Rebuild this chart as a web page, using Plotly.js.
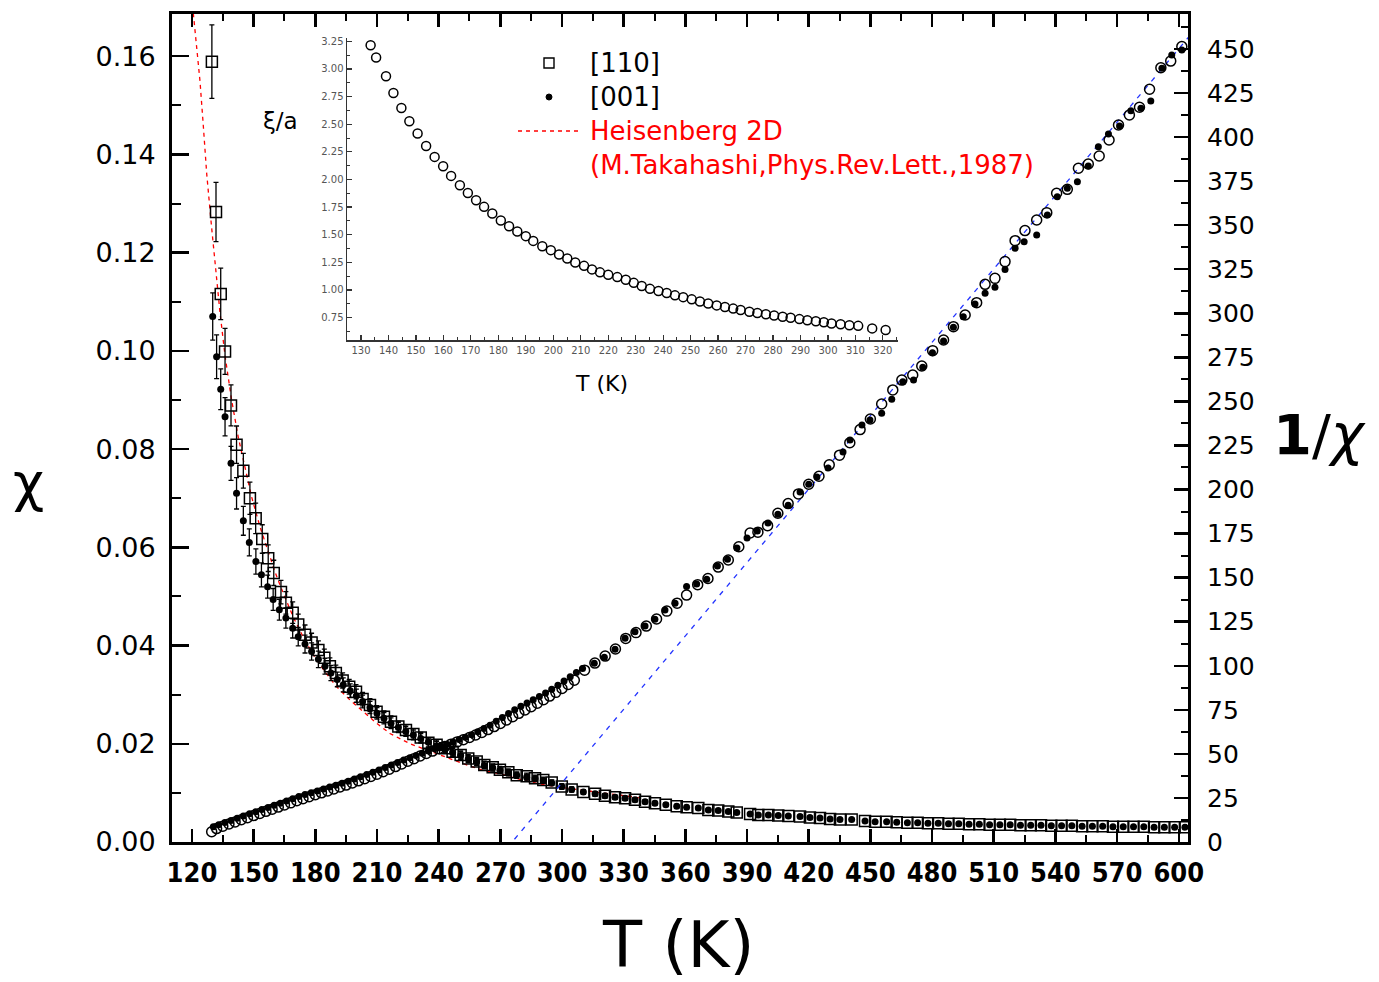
<!DOCTYPE html>
<html>
<head>
<meta charset="utf-8">
<script src="https://cdn.plot.ly/plotly-3.0.1.min.js"></script>
<style>html,body{margin:0;padding:0;background:#fff;}#chart{width:1379px;height:982px;}</style>
</head>
<body>
<div id="chart"></div>
<script>
// ---- [110] susceptibility chi (open squares, left axis)
const chi110T = [129.7,131.7,134.0,136.1,139.0,141.7,145.0,148.2,151.0,154.2,157.1,159.8,163.3,165.7,169.0,171.7,175.0,178.2,181.5,184.4,187.1,190.0,193.3,196.5,199.8,203.0,206.6,209.8,213.4,216.8,220.4,224.1,227.7,231.3,235.0,239.0,243.1,246.8,250.7,254.4,258.5,262.2,266.3,269.8,273.9,278.0,282.8,286.9,290.9,295.0,299.9,304.7,310.4,316.1,320.9,325.8,330.7,335.5,340.4,345.2,350.5,355.8,360.6,366.3,371.2,376.0,380.9,385.0,391.5,395.5,400.4,405.2,410.1,415.8,420.6,425.5,430.4,435.2,440.9,447.4,452.3,457.9,462.8,468,473,478,483,488,493,498,503,508,513,518,523,528,533,538,543,548,553,558,563,568,573,578,583,588,593,598,603];
const chi110 = [0.1589,0.1283,0.1116,0.0999,0.0889,0.0809,0.0756,0.0700,0.0659,0.0617,0.0578,0.0548,0.0509,0.0487,0.0467,0.0443,0.0422,0.0406,0.0391,0.0375,0.0358,0.0344,0.0329,0.0316,0.0306,0.0291,0.0279,0.0265,0.0255,0.0245,0.0235,0.0228,0.0220,0.0213,0.0202,0.0198,0.0191,0.0184,0.0177,0.0170,0.0164,0.0157,0.0152,0.0147,0.0142,0.0136,0.0134,0.0130,0.0126,0.0121,0.0113,0.0107,0.0102,0.0098,0.0094,0.0091,0.0089,0.0086,0.0082,0.0079,0.0076,0.0073,0.0071,0.0069,0.0065,0.0064,0.0062,0.0060,0.0057,0.0055,0.0055,0.0054,0.0053,0.0052,0.0050,0.0049,0.0047,0.0046,0.0046,0.0043,0.0041,0.0041,0.0040,0.0039,0.0039,0.0038,0.0038,0.0037,0.0037,0.0036,0.0036,0.0035,0.0035,0.0035,0.0034,0.0034,0.0034,0.0033,0.0033,0.0033,0.0032,0.0032,0.0032,0.0031,0.0031,0.0031,0.0031,0.0030,0.0030,0.0030,0.0030];

// ---- [001] susceptibility chi (filled dots, left axis)
const chi001T = [130.1,132.0,134.0,136.1,139.0,141.7,145.0,147.9,151.1,153.8,156.8,159.5,162.5,165.7,169.0,171.7,175.0,178.2,181.5,184.7,187.6,190.7,193.6,197.0,200.0,203.0,206.6,210.0,213.4,216.8,220.4,224.0,227.7,231.3,235.0,239.0,243.1,246.8,250.7,254.4,258.5,262.2,266.3,269.8,273.9,278.0,282.8,286.9,290.9,295.0,299.9,304.7,310.4,316.1,320.9,325.8,330.7,335.5,340.4,345.2,350.5,355.8,360.6,366.3,371.2,376.0,380.9,385.0,391.5,395.5,400.4,405.2,410.1,415.8,420.6,425.5,430.4,435.2,440.9,447.4,452.3,457.9,462.8,468,473,478,483,488,493,498,503,508,513,518,523,528,533,538,543,548,553,558,563,568,573,578,583,588,593,598,603];
const chi001 = [0.1070,0.0988,0.0922,0.0866,0.0771,0.0710,0.0654,0.0610,0.0571,0.0544,0.0520,0.0494,0.0473,0.0456,0.0435,0.0418,0.0403,0.0388,0.0372,0.0358,0.0344,0.0331,0.0320,0.0308,0.0298,0.0286,0.0274,0.0262,0.0252,0.0242,0.0233,0.0225,0.0218,0.0211,0.0203,0.0196,0.0189,0.0182,0.0176,0.0169,0.0163,0.0156,0.0151,0.0146,0.0141,0.0136,0.0132,0.0129,0.0125,0.0120,0.0113,0.0107,0.0102,0.0098,0.0094,0.0091,0.0089,0.0086,0.0082,0.0079,0.0076,0.0073,0.0071,0.0069,0.0065,0.0064,0.0062,0.0060,0.0057,0.0055,0.0055,0.0054,0.0053,0.0052,0.0050,0.0049,0.0047,0.0046,0.0046,0.0043,0.0041,0.0041,0.0040,0.0039,0.0039,0.0038,0.0038,0.0037,0.0037,0.0036,0.0036,0.0035,0.0035,0.0035,0.0034,0.0034,0.0034,0.0033,0.0033,0.0033,0.0032,0.0032,0.0032,0.0031,0.0031,0.0031,0.0031,0.0030,0.0030,0.0030,0.0030];

// ---- [110] inverse susceptibility 1/chi (open circles, right axis)
const inv110T = [129.6,132,135,138,141,144,147,150,153,156,159,162,165,168,171,174,177,180,183,186,189,192,195,198,201,204,207,210,213,216,219,222,225,228,231,234,237,240,243,246,249,252,255,258,261,264,267,270,273,276,279,282,285,288,291,294,297,300,303,306,311,316,321,326,331,336,341,346,351,356,360.6,366,371,376,380.9,386,391.5,395.3,400,405,410,415,420,425,430,435,440,445,450,455.5,460.9,465.3,470.6,475.0,480.3,485.6,490.4,496.1,501.7,505.8,510.6,515.5,520.4,525.2,530.9,535.8,540.6,545.8,551.2,556.0,561.3,566.1,570.7,576.0,580.9,585.8,591.3,596.1,601.5];
const inv110 = [5.8,7.6,9.0,10.2,11.4,12.6,13.8,15.0,16.2,17.4,18.6,19.8,21.0,22.2,23.4,24.6,25.7,26.8,27.9,29.0,30.1,31.2,32.3,33.5,34.7,35.9,37.2,38.5,39.9,41.3,42.8,44.3,45.8,47.3,48.8,50.2,51.6,52.9,54.2,55.5,56.8,58.0,59.3,60.7,62.2,63.8,65.5,67.3,69.2,71.1,73.0,74.9,76.8,78.7,80.7,82.8,84.9,87.1,89.4,91.8,97.5,101.5,105.5,109.5,115.5,118.8,122.5,126.5,131.0,135.5,140.1,146.0,149.5,156.0,160.0,167.5,175.3,175.8,179.5,186.5,192.0,197.5,203.0,207.5,214.0,219.5,226.5,234.0,240.0,248.5,256.5,262.1,265.0,270.1,278.8,284.8,292.4,299.0,306.0,316.4,319.8,329.3,341.2,346.9,352.9,357.1,368.1,370.3,382.3,384.7,389.2,398.3,406.8,412.5,416.9,427.1,439.3,443.1,451.3];

// ---- [001] inverse susceptibility 1/chi (filled dots, right axis)
const inv001T = [130.4,133,136,139,142,145,148,151,154,157,160,163,166,169,172,175,178,181,184,187,190,193,196,199,202,205,208,211,214,217,220,223,226,229,232,235,238,241,244,247,250,253,256,259,262,265,268,271,274,277,280,283,286,289,292,295,298,301,304,307,310,315.7,320.6,325.8,330.7,335.5,340.4,345.2,350.1,355.0,360.6,365.5,370.4,375.6,380.5,385.1,390,395,400.2,405,410,415.8,420,424.0,429.4,436.7,440.1,445.9,449.8,455.5,460.4,465.8,471.0,475.5,480.2,485.6,490.4,495.2,500.9,505.8,510.6,515.5,520.4,524.8,530.9,536.1,540.9,545.8,550.7,556.0,560.9,565.8,571.2,576.7,581.6,586.4,591.8,596.6,601.5];
const inv001 = [8.7,9.8,11.0,12.2,13.5,14.8,16.0,17.2,18.4,19.6,20.8,22.0,23.3,24.6,25.8,27.0,28.0,29.0,30.1,31.2,32.2,33.3,34.5,35.7,37.0,38.3,39.6,40.9,42.3,43.7,45.1,46.5,47.8,49.1,50.3,51.6,52.9,54.2,55.5,56.8,58.1,59.4,60.9,62.6,64.4,66.3,68.5,70.6,72.9,75.0,77.0,78.9,80.7,82.6,84.6,86.7,88.9,91.4,93.8,96.2,98.4,101.4,104.8,109.3,115.6,119.3,122.6,126.4,131.6,135.4,144.9,146.4,149.1,156.6,160.5,166.8,172.5,176.5,181.0,186.0,191.0,198.6,203.0,207.1,212.2,221.3,228.1,236.6,239.4,243.2,251.2,261.2,262.1,269.3,277.6,284.3,292.0,298.0,305.3,311.3,314.7,324.9,336.9,340.6,344.4,355.8,366.1,370.9,374.6,383.6,394.5,401.7,406.3,414.9,416.3,420.5,439.0,446.6,449.4];

// ---- Heisenberg 2D curve (Takahashi 1987), chi, left axis
const heisT = [119.9,121.5,123.9,125.5,127.2,129.6,132.0,133.6,136.1,139.3,142.5,145.8,149.0,153.1,157.1,160.4,164.1,169.6,175,180,185,190.4,196.9,203.3,209.8,216.3,226.1,235.8,243.9,253.6,261.7,271.4,280,289.3,300,310.4,320,329.8,339.6];
const heisChi = [0.172,0.165,0.155,0.146,0.136,0.125,0.114,0.108,0.099,0.090,0.0825,0.0760,0.0703,0.0642,0.0592,0.0550,0.0510,0.0455,0.0410,0.0375,0.0345,0.0316,0.0289,0.0265,0.0242,0.0221,0.0200,0.0185,0.0172,0.0157,0.0146,0.0137,0.0127,0.0118,0.0111,0.0105,0.0099,0.0094,0.0089];

// ---- Curie-Weiss straight line, 1/chi, right axis
const cwT = [270, 605];
const cwInv = [-8, 457];

// ---- Inset: correlation length xi/a vs T
const xiT = [133.5,135.5,139.1,141.8,144.7,147.6,150.6,153.7,156.8,159.9,162.8,166.0,168.9,171.9,174.8,177.8,180.9,183.9,186.9,190.0,192.7,196.0,199.1,202.1,205.1,208.0,211.2,214.1,217.0,220.0,223.3,226.4,229.3,232.2,235.2,238.3,241.3,244.3,247.3,250.4,253.4,256.4,259.5,262.5,265.5,268.2,271.4,274.3,277.4,280.4,283.5,286.4,289.6,292.5,295.6,298.5,301.3,304.6,307.8,311.0,316.1,321.0];
const xiVal = [3.214,3.103,2.934,2.783,2.647,2.527,2.415,2.303,2.204,2.120,2.032,1.948,1.878,1.812,1.752,1.692,1.629,1.577,1.529,1.487,1.444,1.396,1.360,1.321,1.285,1.249,1.218,1.186,1.159,1.137,1.116,1.092,1.064,1.035,1.010,0.990,0.972,0.951,0.935,0.915,0.896,0.877,0.860,0.846,0.831,0.818,0.803,0.791,0.780,0.769,0.757,0.748,0.736,0.725,0.716,0.707,0.697,0.689,0.681,0.675,0.652,0.637];

// ---- text
const xTickVals = [120,150,180,210,240,270,300,330,360,390,420,450,480,510,540,570,600];
const legendLabels = ["[110]", "[001]", "Heisenberg 2D", "(M.Takahashi,Phys.Rev.Lett.,1987)"];

const F = "DejaVu Sans, Verdana, sans-serif";
const black = "#000";

const traces = [
  {x: heisT, y: heisChi, xaxis:'x', yaxis:'y', mode:'lines', type:'scatter',
   line:{color:'#ff0000', width:1.3, dash:'4px,4px'}, hoverinfo:'skip'},
  {x: cwT, y: cwInv, xaxis:'x', yaxis:'y2', mode:'lines', type:'scatter',
   line:{color:'#2233ff', width:1.3, dash:'5px,6px'}, hoverinfo:'skip'},
  {x: chi001T, y: chi001, xaxis:'x', yaxis:'y', mode:'markers', type:'scatter',
   marker:{symbol:'circle', size:7, color:black},
   error_y:{type:'percent', value:4.5, color:black, thickness:1.3, width:2.5}},
  {x: chi110T, y: chi110, xaxis:'x', yaxis:'y', mode:'markers', type:'scatter',
   marker:{symbol:'square-open', size:11, color:black, line:{width:1.5, color:black}},
   error_y:{type:'percent', value:4.7, color:black, thickness:1.3, width:2.5}},
  {x: inv001T, y: inv001, xaxis:'x', yaxis:'y2', mode:'markers', type:'scatter',
   marker:{symbol:'circle', size:7, color:black}},
  {x: inv110T, y: inv110, xaxis:'x', yaxis:'y2', mode:'markers', type:'scatter',
   marker:{symbol:'circle-open', size:10, color:black, line:{width:1.5, color:black}}},
  {x: xiT, y: xiVal, xaxis:'x3', yaxis:'y3', mode:'markers', type:'scatter',
   marker:{symbol:'circle-open', size:9, color:black, line:{width:1.5, color:black}}}
];

// plot area geometry (pixels) -> paper helpers
const L = 172, R = 1188, T0 = 14, B = 842;
const px = X => (X - L) / (R - L);
const py = Y => (B - Y) / (B - T0);

const layout = {
  width: 1379, height: 982,
  margin: {l: L, r: 1379 - R, t: T0, b: 982 - B, pad: 0},
  paper_bgcolor: '#fff', plot_bgcolor: 'rgba(0,0,0,0)',
  showlegend: false,
  font: {family: F, color: black},
  xaxis: {
    domain: [0, 1], range: [110.3, 604.5], anchor: 'y',
    showline: true, linewidth: 3, linecolor: black, mirror: 'ticks',
    ticks: 'inside', ticklen: 13, tickwidth: 2.5, tickcolor: black,
    tickmode: 'array', tickvals: xTickVals,
    minor: {dtick: 15, tick0: 120, ticks: 'inside', ticklen: 7, tickwidth: 2, tickcolor: black},
    showgrid: false, zeroline: false,
    tickfont: {family: 'DejaVu Sans Condensed, DejaVu Sans', size: 27, weight: 'bold', color: black},
    ticklabelstandoff: 5
  },
  yaxis: {
    domain: [0, 1], range: [0, 0.1686], anchor: 'x',
    showline: true, linewidth: 3, linecolor: black,
    ticks: 'inside', ticklen: 17, tickwidth: 2.5, tickcolor: black,
    dtick: 0.02, tick0: 0, tickformat: '.2f',
    minor: {dtick: 0.01, ticks: 'inside', ticklen: 9, tickwidth: 2, tickcolor: black},
    showgrid: false, zeroline: false,
    tickfont: {family: F, size: 27, color: black},
    ticklabelstandoff: 8
  },
  yaxis2: {
    range: [0, 469.8], overlaying: 'y', side: 'right', anchor: 'x',
    showline: true, linewidth: 3, linecolor: black,
    ticks: 'inside', ticklen: 14, tickwidth: 2.5, tickcolor: black,
    dtick: 25, tick0: 0,
    minor: {dtick: 12.5, ticks: 'inside', ticklen: 7, tickwidth: 2, tickcolor: black},
    showgrid: false, zeroline: false,
    tickfont: {family: F, size: 25, color: black},
    ticklabelstandoff: 11
  },
  xaxis3: {
    domain: [px(347), px(898)], range: [124.9, 325.5], anchor: 'y3',
    showline: true, linewidth: 1.5, linecolor: '#333',
    ticks: 'inside', ticklen: 5, tickwidth: 1.2, tickcolor: '#333',
    dtick: 10, tick0: 130,
    minor: {dtick: 5, ticks: 'inside', ticklen: 3, tickwidth: 1, tickcolor: '#333'},
    showgrid: false, zeroline: false,
    tickfont: {family: F, size: 10, color: '#555'}
  },
  yaxis3: {
    domain: [py(340), py(38)], range: [0.547, 3.28], anchor: 'x3',
    showline: true, linewidth: 1.5, linecolor: '#333',
    ticks: 'inside', ticklen: 5, tickwidth: 1.2, tickcolor: '#333',
    dtick: 0.25, tick0: 0.75, tickformat: '.2f',
    minor: {dtick: 0.125, ticks: 'inside', ticklen: 3, tickwidth: 1, tickcolor: '#333'},
    showgrid: false, zeroline: false,
    tickfont: {family: F, size: 10, color: '#555'}
  },
  annotations: [
    {xref:'paper', yref:'paper', x: px(678), y: py(945), text: 'T (K)', showarrow:false,
     xanchor:'center', yanchor:'middle', font:{family:F, size:64, color:black}},
    {xref:'paper', yref:'paper', x: px(28), y: py(482), text: 'χ', showarrow:false,
     xanchor:'center', yanchor:'middle', font:{family:F, size:54, color:black}},
    {xref:'paper', yref:'paper', x: px(1319), y: py(434), text: '<b>1</b>/<i>χ</i>', showarrow:false,
     xanchor:'center', yanchor:'middle', font:{family:F, size:56, color:black}},
    {xref:'paper', yref:'paper', x: px(280), y: py(121), text: 'ξ/a', showarrow:false,
     xanchor:'center', yanchor:'middle', font:{family:F, size:23, color:black}},
    {xref:'paper', yref:'paper', x: px(601), y: py(383), text: 'T (K)', showarrow:false,
     xanchor:'center', yanchor:'middle', font:{family:F, size:22, color:black}},
    {xref:'paper', yref:'paper', x: px(588), y: py(63), text: legendLabels[0], showarrow:false,
     xanchor:'left', yanchor:'middle', font:{family:F, size:26, color:black}},
    {xref:'paper', yref:'paper', x: px(588), y: py(97), text: legendLabels[1], showarrow:false,
     xanchor:'left', yanchor:'middle', font:{family:F, size:26, color:black}},
    {xref:'paper', yref:'paper', x: px(588), y: py(131), text: legendLabels[2], showarrow:false,
     xanchor:'left', yanchor:'middle', font:{family:F, size:26, color:'#ff0000'}},
    {xref:'paper', yref:'paper', x: px(588), y: py(165), text: legendLabels[3], showarrow:false,
     xanchor:'left', yanchor:'middle', font:{family:F, size:26, color:'#ff0000'}}
  ],
  shapes: [
    {type:'rect', xref:'paper', yref:'paper', x0: px(544), x1: px(554), y0: py(68), y1: py(58),
     line:{color:black, width:1.4}, fillcolor:'rgba(0,0,0,0)'},
    {type:'circle', xref:'paper', yref:'paper', x0: px(546), x1: px(552), y0: py(100), y1: py(94),
     line:{color:black, width:1}, fillcolor:black},
    {type:'line', xref:'paper', yref:'paper', x0: px(518), x1: px(580), y0: py(131), y1: py(131),
     line:{color:'#ff0000', width:1.3, dash:'4px,4px'}}
  ]
};

Plotly.newPlot('chart', traces, layout, {staticPlot: true, displayModeBar: false});
</script>
</body>
</html>
